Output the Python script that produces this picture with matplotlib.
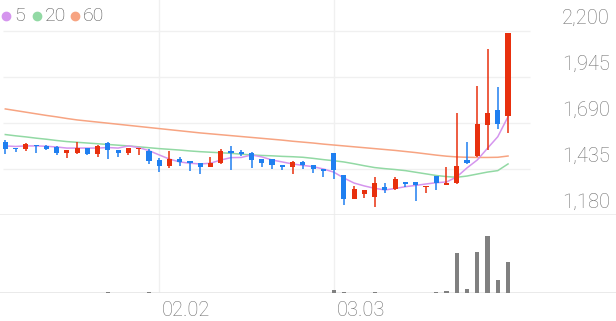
import matplotlib
matplotlib.use('Agg')
import matplotlib.pyplot as plt
import matplotlib.transforms as mtransforms
from matplotlib.lines import Line2D
import numpy as np

matplotlib.rcParams['font.family'] = ['Roboto', 'DejaVu Sans']

# daily candles (oldest -> newest)
opens = [1582, 1550, 1545, 1570, 1564, 1559, 1522, 1522, 1550, 1518,
         1581, 1540, 1522, 1545, 1537, 1485, 1452, 1492, 1479, 1467,
         1448, 1467, 1537, 1529, 1526, 1489, 1489, 1457, 1448, 1472,
         1455, 1433, 1522, 1400, 1270, 1296, 1278, 1333, 1326, 1361,
         1361, 1335, 1396, 1346, 1356, 1485, 1507, 1681, 1762, 1729]
highs = [1593, 1550, 1581, 1570, 1566, 1560, 1540, 1587, 1552, 1566,
         1587, 1542, 1552, 1552, 1545, 1496, 1537, 1500, 1480, 1469,
         1500, 1545, 1563, 1540, 1530, 1490, 1492, 1458, 1478, 1478,
         1457, 1435, 1526, 1402, 1341, 1320, 1393, 1359, 1392, 1362,
         1362, 1342, 1398, 1448, 1747, 1587, 1895, 2099, 1891, 2190]
lows = [1518, 1529, 1537, 1522, 1543, 1511, 1494, 1518, 1511, 1503,
        1493, 1503, 1511, 1513, 1463, 1419, 1439, 1452, 1426, 1407,
        1444, 1463, 1430, 1507, 1440, 1448, 1433, 1430, 1407, 1433,
        1411, 1392, 1378, 1234, 1267, 1273, 1226, 1304, 1319, 1334,
        1259, 1304, 1319, 1346, 1354, 1463, 1503, 1540, 1655, 1633]
closes = [1545, 1545, 1574, 1563, 1545, 1522, 1540, 1550, 1518, 1563,
          1540, 1522, 1550, 1550, 1481, 1452, 1489, 1474, 1467, 1448,
          1470, 1537, 1522, 1518, 1485, 1467, 1457, 1444, 1474, 1457,
          1437, 1422, 1430, 1270, 1323, 1319, 1355, 1319, 1381, 1352,
          1346, 1341, 1359, 1359, 1453, 1470, 1684, 1747, 1684, 2190]
volumes = [5, 5, 5, 5, 5, 5, 5, 5, 5, 5,
           12, 5, 5, 5, 10, 5, 5, 5, 5, 5,
           5, 5, 5, 5, 5, 5, 5, 5, 5, 5,
           5, 5, 33, 10, 5, 5, 10, 5, 5, 5,
           5, 5, 6, 20, 404, 40, 407, 570, 134, 310]

# moving averages as drawn on the chart
ma5 = [1563, 1560, 1563, 1563, 1561, 1557, 1551, 1551, 1551, 1551,
       1554, 1551, 1563, 1554, 1537, 1513, 1490, 1474, 1467, 1463,
       1467, 1485, 1498, 1499, 1513, 1502, 1485, 1474, 1463, 1455,
       1448, 1435, 1418, 1385, 1357, 1341, 1328, 1319, 1327, 1337,
       1344, 1352, 1359, 1363, 1391, 1441, 1485, 1550, 1614, 1725]
ma20 = [1626, 1619, 1613, 1606, 1600, 1593, 1587, 1583, 1579, 1575,
        1571, 1567, 1563, 1558, 1553, 1548, 1544, 1540, 1535, 1531,
        1528, 1525, 1522, 1517, 1513, 1510, 1508, 1505, 1503, 1500,
        1494, 1487, 1481, 1474, 1464, 1453, 1443, 1437, 1432, 1426,
        1417, 1408, 1399, 1393, 1389, 1396, 1407, 1418, 1426, 1463]
ma60 = [1768, 1759, 1750, 1741, 1732, 1724, 1715, 1707, 1701, 1695,
        1689, 1683, 1677, 1671, 1665, 1659, 1653, 1647, 1641, 1635,
        1630, 1625, 1620, 1615, 1610, 1605, 1600, 1595, 1589, 1584,
        1579, 1573, 1568, 1563, 1558, 1553, 1548, 1543, 1538, 1532,
        1526, 1519, 1512, 1506, 1502, 1500, 1499, 1499, 1500, 1507]

price_ticks = [1180, 1435, 1690, 1945, 2200]
date_idx = [15, 32]
date_labels = ['02.02', '03.03']

UP = '#e8300e'
DOWN = '#1f7ff0'
MA_COLORS = {'5': '#d595ee', '20': '#92d9a4', '60': '#f7a482'}
GRID = '#f0f0f0'
TXT = '#707070'

W, H = 616, 321
fig = plt.figure(figsize=(W / 100, H / 100), dpi=100)
# price panel: top of figure down to y=215px, volume panel 215..293px
ax = fig.add_axes([0, (H - 215) / H, 1, 215 / H])
axv = fig.add_axes([0, (H - 293) / H, 1, 78 / H])

px_per_bar = 10.26
x0 = 5.3
xlim = (-x0 / px_per_bar, (W - x0) / px_per_bar)
n = len(closes)
x = np.arange(n)

for a in (ax, axv):
    a.set_xlim(*xlim)
    a.axis('off')
    for i in date_idx:
        a.axvline(i, color=GRID, lw=1, zorder=0)

# price scale: 255 won per 46 px, 2200 sits on the gridline at y=31px
ax.set_ylim(1180, 2200 + 31 * 255 / 46)
for t in price_ticks[1:]:
    ax.hlines(t, -0.23, 51.1, color=GRID, lw=1, zorder=0)
ax.axhline(1180, color='#ebebeb', lw=1.2, zorder=0)

trans = mtransforms.blended_transform_factory(ax.transAxes, ax.transData)
for t in price_ticks:
    ax.annotate(f'{t:,}', xy=(1, t), xycoords=trans, xytext=(-6, 13),
                textcoords='offset pixels', ha='right', va='center',
                fontsize=14.5, color=TXT, fontweight='light')

# moving averages
ax.plot(x, ma60, color=MA_COLORS['60'], lw=1.1, zorder=1)
ax.plot(x, ma20, color=MA_COLORS['20'], lw=1.1, zorder=1)
ax.plot(x, ma5, color=MA_COLORS['5'], lw=1.1, zorder=1)

# candles
for i in range(n):
    c = UP if closes[i] >= opens[i] else DOWN
    ax.vlines(i, lows[i], highs[i], color=c, lw=1.1, zorder=2)
    lo, hi = sorted([opens[i], closes[i]])
    ax.bar(i, max(hi - lo, 4), bottom=lo, width=0.5, color=c, zorder=3)

# volume
axv.set_ylim(0, 780)
axv.bar(x, volumes, width=0.4, color='#808080', zorder=2)
axv.axhline(0, color='#e6e6e6', lw=1.2, zorder=1)
for i, lab in zip(date_idx, date_labels):
    axv.annotate(lab, xy=(i, 0), xytext=(3, -17), textcoords='offset pixels',
                 ha='left', va='center', fontsize=14.5, color=TXT,
                 fontweight='light')

# legend
lx = [6, 37, 75]
for (lab, col), px in zip(MA_COLORS.items(), lx):
    fig.add_artist(Line2D([px / W], [1 - 16 / H], marker='o', ms=6,
                          color=col, transform=fig.transFigure))
    fig.text((px + 8) / W, 1 - 16 / H, lab, fontsize=14, color='#555555',
             ha='left', va='center', fontweight='light')

fig.savefig('out.png', dpi=100)
